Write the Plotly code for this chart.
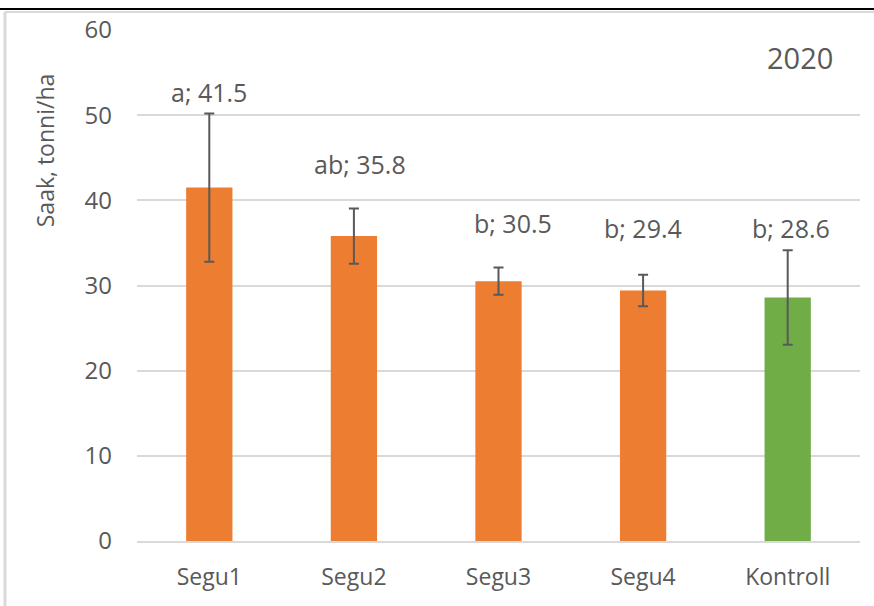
import plotly.graph_objects as go

# Yield per treatment, 2020
categories = ["Segu1", "Segu2", "Segu3", "Segu4", "Kontroll"]
yield_t_ha = [41.5, 35.8, 30.5, 29.4, 28.6]
error_t_ha = [8.7, 3.25, 1.6, 1.85, 5.55]
groups = ["a", "ab", "b", "b", "b"]

# label placement (data units) and horizontal nudges (px)
label_y = [52.7, 44.3, 37.3, 36.7, 36.8]
label_dx = [0, 6, 14, 0, 3]

ORANGE = "#ED7D31"
GREEN = "#70AD47"
TEXT = "#595959"
GRID = "#D9D9D9"
FONT = "Open Sans"

bar_colors = [GREEN if c == "Kontroll" else ORANGE for c in categories]

fig = go.Figure()
fig.add_trace(go.Bar(
    x=categories,
    y=yield_t_ha,
    marker=dict(color=bar_colors, line=dict(width=0)),
    error_y=dict(type="data", array=error_t_ha, visible=True,
                 color=TEXT, thickness=2, width=5),
    showlegend=False,
))

for cat, g, v, ly, dx in zip(categories, groups, yield_t_ha, label_y, label_dx):
    fig.add_annotation(x=cat, y=ly, text=f"{g}; {v:.1f}", showarrow=False,
                       xshift=dx, xanchor="center", yanchor="middle",
                       font=dict(family=FONT, size=25, color=TEXT))

fig.add_annotation(xref="paper", yref="paper", x=0.917, y=0.947,
                   xanchor="center", yanchor="middle",
                   text="2020", showarrow=False,
                   font=dict(family=FONT, size=29, color=TEXT))

# axis title, placed toward the upper part of the axis
fig.add_annotation(xref="paper", yref="paper", x=-0.127, y=0.765,
                   xanchor="center", yanchor="middle", textangle=-90,
                   text="Saak, tonni/ha", showarrow=False,
                   font=dict(family=FONT, size=23, color=TEXT))

# frame lines around the chart area
fig.add_shape(type="line", xref="paper", yref="paper",
              x0=-0.19, x1=1.02, y0=1.0409, y1=1.0409,
              line=dict(color="#000000", width=2))
fig.add_shape(type="line", xref="paper", yref="paper",
              x0=-0.1826, x1=1.02, y0=1.0350, y1=1.0350,
              line=dict(color=GRID, width=2))
fig.add_shape(type="line", xref="paper", yref="paper",
              x0=-0.1826, x1=-0.1826, y0=1.0350, y1=-0.13,
              line=dict(color=GRID, width=3))

fig.update_layout(
    width=874, height=606,
    margin=dict(l=137, r=14, t=27, b=65),
    paper_bgcolor="white", plot_bgcolor="white",
    bargap=0.68,
    font=dict(family=FONT, size=23, color=TEXT),
)
fig.update_xaxes(
    showgrid=False, showline=True, linecolor=GRID, linewidth=2,
    ticks="", ticklabelstandoff=14,
    tickfont=dict(family=FONT, size=23, color=TEXT),
)
fig.update_yaxes(
    range=[0, 60], dtick=10, showgrid=True, gridcolor=GRID, gridwidth=2,
    zeroline=False, showline=False, ticks="", ticklabelstandoff=24,
    tickfont=dict(family=FONT, size=24, color=TEXT),
)

fig.write_html("out.html")
